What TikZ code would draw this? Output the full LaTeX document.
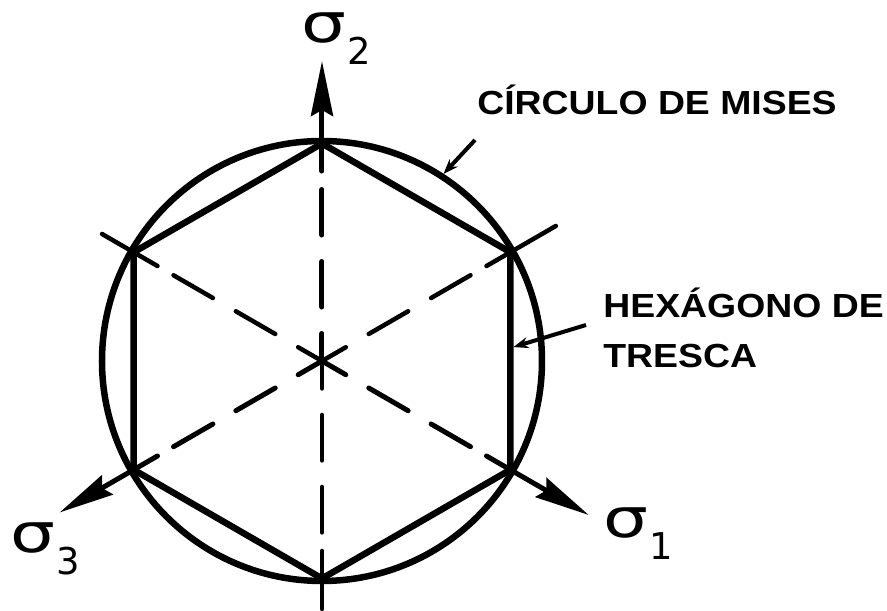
\documentclass[tikz,border=0pt]{standalone}
\usepackage{fontspec}
\usepackage{graphicx}
\usetikzlibrary{arrows.meta, calc, positioning}
\newfontfamily\lblfont[FakeStretch=1.12]{Liberation Sans}
\newfontfamily\greekfont{DejaVu Sans}
\newcommand{\sigmalbl}[1]{{\greekfont\fontsize{31}{31}\selectfont\scalebox{1.3}[1]{σ}\kern0.5pt\raisebox{-12.5pt}{\fontsize{21}{21}\selectfont #1}}}

\begin{document}
\begin{tikzpicture}[x=0.02cm, y=0.02cm,
    hexline/.style={line width=0.13cm, line join=round},
    ray/.style={line width=0.09cm, line cap=round, dash pattern=on 0.55cm off 0.53cm on 0.91cm off 0.53cm on 0.91cm off 0.37cm on 20cm},
    axis/.style={ray, line width=0.1cm, -{Stealth[length=1.1cm, width=0.44cm, inset=0.12cm]}},
    leader/.style={line width=0.08cm, -{Stealth[length=0.3cm, width=0.22cm]}},
    lbl/.style={font=\lblfont\bfseries\fontsize{19}{22}\selectfont, inner sep=0pt, anchor=base west},
    sig/.style={inner sep=0pt, anchor=base west}]

    \useasboundingbox (-322,-250) rectangle (565,361);

    % centre of the diagram
    \coordinate (O) at (0,0);

    % Tresca hexagon corners
    \foreach \a [count=\i] in {30,90,150,210,270,330}
        \coordinate (v\i) at (\a:217.5);

    % axis ends
    \coordinate (s1tip) at (330:308);
    \coordinate (s2tip) at (90:300);
    \coordinate (s3tip) at (210:303);
    \coordinate (s1back) at (150:254);
    \coordinate (s2back) at (270:248);
    \coordinate (s3back) at (30:270);

    % Mises circle and Tresca hexagon
    \draw[hexline] (O) circle (220);
    \draw[hexline] (v1) -- (v2) -- (v3) -- (v4) -- (v5) -- (v6) -- cycle;

    % principal stress axes
    \draw[axis] (O) -- (s1tip);
    \draw[axis] (O) -- (s2tip);
    \draw[axis] (O) -- (s3tip);
    \draw[ray] (O) -- (s1back);
    \draw[ray] (O) -- (s2back);
    \draw[ray] (O) -- (s3back);

    % axis labels
    \node[sig] (s1lbl) at (281,-177) {\sigmalbl{1}};
    \node[sig] (s2lbl) at (-21,318) {\sigmalbl{2}};
    \node[sig] (s3lbl) at (-312,-192) {\sigmalbl{3}};

    % callouts
    \node[lbl] (mises) at (155,246) {CÍRCULO DE MISES};
    \node[lbl] (tresca) at (281,43) {HEXÁGONO DE};
    \node[lbl] (tresca2) at ($(tresca.base west)+(0,-50)$) {TRESCA};

    \coordinate (misestail) at (153,221);
    \coordinate (misestip) at (57:223);
    \coordinate (trescatail) at (264,36);
    \coordinate (trescatip) at ($(v1)!0.436!(v6)+(3,0)$);
    \draw[leader] (misestail) -- (misestip);
    \draw[leader] (trescatail) -- (trescatip);
\end{tikzpicture}
\end{document}
